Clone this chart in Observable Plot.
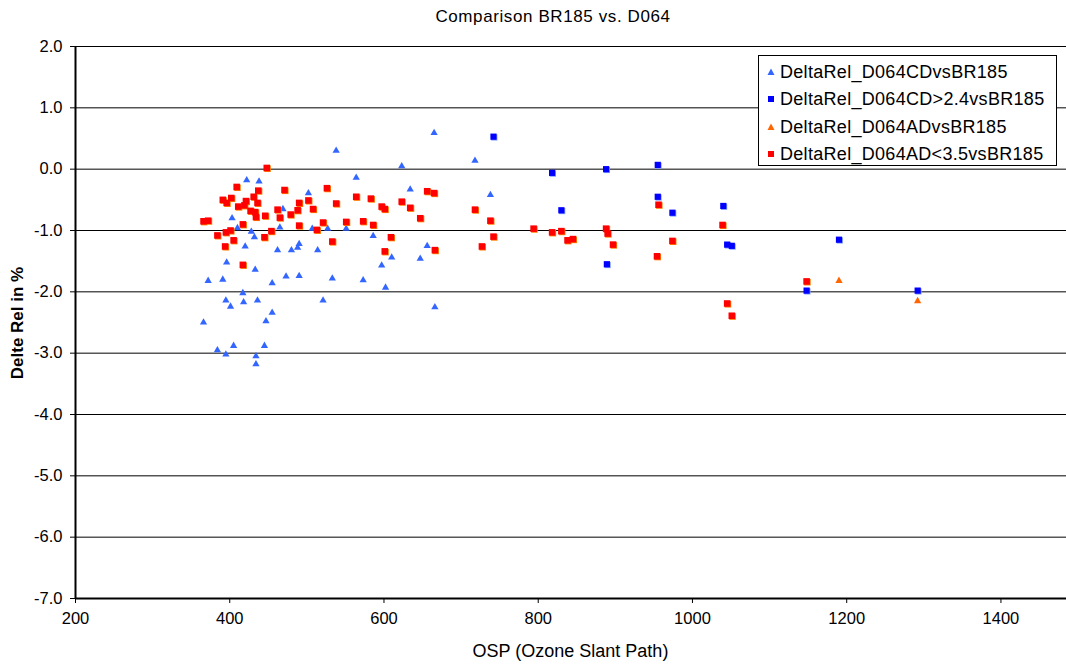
<!DOCTYPE html>
<html>
<head>
<meta charset="utf-8">
<script src="https://cdn.jsdelivr.net/npm/d3@7"></script>
<script src="https://cdn.jsdelivr.net/npm/@observablehq/plot@0.6"></script>
<style>
  html, body { margin: 0; padding: 0; background: #fff; }
  #wrap { position: relative; width: 1066px; height: 664px; font-family: "Liberation Sans", Arial, sans-serif; color: #000; overflow: hidden; }
  #title { position: absolute; top: 7px; left: 0; width: 1106px; text-align: center; font-size: 17px; letter-spacing: 0.6px; }
  #ylabel { position: absolute; left: 18px; top: 323px; transform: translate(-50%, -50%) rotate(-90deg); font-size: 17px; font-weight: bold; white-space: nowrap; }
  #xlabel { position: absolute; top: 641px; left: 75px; width: 991px; text-align: center; font-size: 18px; }
  #legend { position: absolute; left: 758px; top: 55px; width: 297px; height: 109px; border: 1px solid #000; background: #fff; font-size: 18px; letter-spacing: 0.3px; }
  .li { position: absolute; left: 8px; height: 22px; display: flex; align-items: center; white-space: nowrap; }
  .li svg { margin-right: 5px; }
</style>
</head>
<body>
<div id="wrap">
  <div id="chart"></div>
  <div id="title">Comparison BR185 vs. D064</div>
  <div id="ylabel">Delte Rel in %</div>
  <div id="xlabel">OSP (Ozone Slant Path)</div>
  <div id="legend"></div>
</div>
<script>
// ---- data ----
const seriesNames = ["DeltaRel_D064CDvsBR185", "DeltaRel_D064CD>2.4vsBR185", "DeltaRel_D064ADvsBR185", "DeltaRel_D064AD<3.5vsBR185"];
const xTicks = [200, 400, 600, 800, 1000, 1200, 1400];
const yTicks = [2, 1, 0, -1, -2, -3, -4, -5, -6, -7];

// DeltaRel_D064CDvsBR185 (triangles)
const cdOsp = [422, 438, 403, 469, 410, 428, 432, 465, 420, 462, 396,
  433, 372, 391, 455, 473, 417, 395, 401, 418, 436, 455, 447, 366, 384, 395, 405, 445, 434, 434,
  538, 564, 502, 507, 527, 551, 586, 480, 488, 490, 514,
  490, 533, 573, 521, 597,
  665, 623, 718, 634, 656, 610, 647, 602, 666, 738];
const cdDelta = [-0.18, -0.20, -0.80, -0.65, -0.96, -1.02, -1.11, -0.95, -1.26, -1.32, -1.52,
  -1.64, -1.82, -1.80, -1.86, -1.75, -2.02, -2.14, -2.24, -2.17, -2.14, -2.34, -2.48, -2.50, -2.95, -3.02, -2.88, -2.88, -3.05, -3.18,
  0.30, -0.14, -0.39, -0.97, -0.97, -0.97, -1.09, -1.32, -1.28, -1.22, -1.32,
  -1.74, -1.78, -1.81, -2.14, -1.57,
  0.59, 0.05, 0.14, -0.33, -1.25, -1.44, -1.46, -1.93, -2.25, -0.42];

// DeltaRel_D064CD>2.4vsBR185 (squares)
const cd24Osp = [742, 818, 830, 888, 889, 955, 955, 974, 1040, 1045, 1051, 1148, 1190, 1292];
const cd24Delta = [0.53, -0.06, -0.67, 0.0, -1.55, 0.07, -0.45, -0.71, -0.60, -1.23, -1.25, -1.98, -1.15, -1.98];

// DeltaRel_D064ADvsBR185 (triangles, visible ones)
const adOsp = [1190, 1292];
const adDelta = [-1.82, -2.15];

// DeltaRel_D064AD<3.5vsBR185 (squares)
const ad35Osp = [448, 409, 437, 471, 391, 402, 396, 431, 421, 436, 411, 419, 427, 433, 434, 446, 462, 465, 366, 372, 417, 384, 395, 401, 405, 454, 445, 394, 417,
  526, 564, 583, 490, 502, 488, 508, 479, 538, 490, 513, 521, 551, 573, 586, 533,
  656, 665, 597, 601, 623, 634, 647, 718, 738, 609, 601, 666, 727, 742,
  794, 818, 830, 838, 845, 888, 890, 897, 956, 974, 954, 1039, 1045, 1051, 1148];
const ad35Delta = [0.02, -0.29, -0.35, -0.34, -0.50, -0.47, -0.55, -0.45, -0.52, -0.55, -0.61, -0.59, -0.68, -0.70, -0.78, -0.76, -0.66, -0.79, -0.85, -0.84, -0.90, -1.08, -1.03, -1.00, -1.16, -1.01, -1.11, -1.26, -1.56,
  -0.31, -0.45, -0.48, -0.55, -0.51, -0.67, -0.65, -0.74, -0.56, -0.92, -0.99, -0.87, -0.86, -0.85, -0.91, -1.18,
  -0.36, -0.39, -0.61, -0.65, -0.53, -0.63, -0.80, -0.66, -0.84, -1.11, -1.34, -1.32, -1.26, -1.10,
  -0.97, -1.03, -1.01, -1.16, -1.14, -0.97, -1.05, -1.23, -0.58, -1.17, -1.42, -0.91, -2.19, -2.39, -1.83];

const colors = ["#3366ff", "#0000ff", "#ff6600", "#ff0000"];

const cd = cdOsp.map((x, i) => ({x, y: cdDelta[i]}));
const cd24 = cd24Osp.map((x, i) => ({x, y: cd24Delta[i]}));
const ad = adOsp.map((x, i) => ({x, y: adDelta[i]}));
const ad35 = ad35Osp.map((x, i) => ({x, y: ad35Delta[i]}));

const chart = Plot.plot({
  width: 1066,
  height: 664,
  marginLeft: 75,
  marginRight: 0,
  marginTop: 46,
  marginBottom: 66,
  x: {domain: [200, 1485]},
  y: {domain: [-7, 2]},
  style: {fontFamily: "'Liberation Sans', Arial, sans-serif", fontSize: "16.5px", color: "#000", background: "#fff"},
  marks: [
    Plot.ruleY(yTicks, {stroke: "#000", strokeWidth: 1}),
    Plot.ruleY([-7], {stroke: "#000", strokeWidth: 2}),
    Plot.ruleX([200], {stroke: "#000", strokeWidth: 2}),
    Plot.axisY({ticks: yTicks, tickFormat: d => d.toFixed(1), tickSize: 5, tickPadding: 8, label: null, stroke: "#000"}),
    Plot.axisX({ticks: xTicks, tickFormat: d => String(d), tickSize: 5, tickPadding: 9, label: null, stroke: "#000"}),
    Plot.dot(cd, {x: "x", y: "y", symbol: "triangle", r: 2.7, fill: colors[0], stroke: null}),
    Plot.dot(cd24, {x: "x", y: "y", symbol: "square", r: 3.5, fill: "#7f9fff", dx: 0.8, dy: 0.8}),
    Plot.dot(cd24, {x: "x", y: "y", symbol: "square", r: 3.5, fill: colors[1]}),
    Plot.dot(ad, {x: "x", y: "y", symbol: "triangle", r: 2.7, fill: colors[2]}),
    Plot.dot(ad35, {x: "x", y: "y", symbol: "square", r: 3.7, fill: "#ff8000", dx: 0.8, dy: 0.8}),
    Plot.dot(ad35, {x: "x", y: "y", symbol: "square", r: 3.7, fill: colors[3]})
  ]
});
document.getElementById("chart").appendChild(chart);

// legend
const legend = document.getElementById("legend");
const tops = [5, 32, 60, 87];
const shapes = ["tri", "sq", "tri", "sq"];
seriesNames.forEach((name, i) => {
  const row = document.createElement("div");
  row.className = "li";
  row.style.top = tops[i] + "px";
  const shape = shapes[i] === "tri"
    ? `<polygon points="4,0.5 7.5,7 0.5,7" fill="${colors[i]}"/>`
    : `<rect x="1" y="1" width="6" height="6" fill="${colors[i]}"/>`;
  row.innerHTML = `<svg width="8" height="8">${shape}</svg><span></span>`;
  row.querySelector("span").textContent = name;
  legend.appendChild(row);
});
</script>
</body>
</html>
